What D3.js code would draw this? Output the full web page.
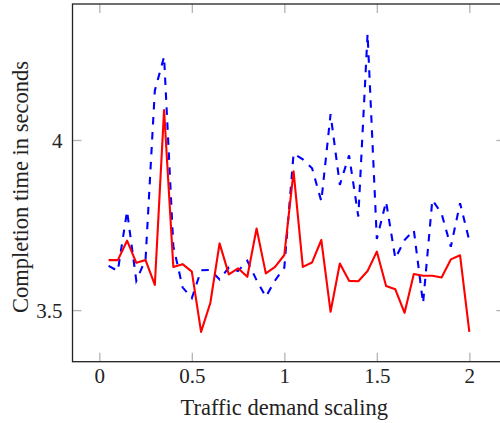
<!DOCTYPE html>
<html>
<head>
<meta charset="utf-8">
<script src="https://cdn.jsdelivr.net/npm/d3@7"></script>
<style>
body{margin:0;background:#fff;}
text{font-family:"Liberation Serif",serif;}
</style>
</head>
<body>
<svg></svg>
<script>
// traffic demand scaling steps
var scaling=[0.05,0.1,0.15,0.2,0.25,0.3,0.35,0.4,0.45,0.5,0.55,0.6,0.65,0.7,0.75,0.8,0.85,0.9,0.95,1,
  1.05,1.1,1.15,1.2,1.25,1.3,1.35,1.4,1.45,1.5,1.55,1.6,1.65,1.7,1.75,1.8,1.85,1.9,1.95,2];

// red solid
var solidTimes=[3.647,3.647,3.704,3.639,3.647,3.574,4.088,3.627,3.635,3.613,3.436,3.521,3.696,3.605,3.623,3.598,3.740,3.608,3.627,3.662,
  3.908,3.627,3.640,3.706,3.495,3.637,3.586,3.585,3.615,3.672,3.571,3.561,3.492,3.606,3.601,3.601,3.596,3.649,3.661,3.436];

// blue dashed
var dashedTimes=[3.630,3.615,3.791,3.586,3.650,4.145,4.245,3.688,3.567,3.535,3.617,3.618,3.590,3.625,3.615,3.645,3.588,3.539,3.587,3.625,
  3.960,3.943,3.917,3.820,4.076,3.868,3.955,3.775,4.312,3.709,3.819,3.652,3.706,3.735,3.520,3.824,3.784,3.686,3.814,3.704];

var xTicks=[0,0.5,1,1.5,2];
var yTicks=[3.5,4];

var svgWidth=500,svgHeight=423;
var svg=d3.select('svg').attr('width',svgWidth).attr('height',svgHeight);

// pgfplots style enlarge limits by 10%
var xExt=d3.extent(scaling), yExt=d3.extent(solidTimes.concat(dashedTimes));
var xPad=(xExt[1]-xExt[0])*0.1, yPad=(yExt[1]-yExt[0])*0.1;

var pLeft=72.5,pRight=505.4,pTop=4,pBottom=361.7;

var xScale=d3.scaleLinear().domain([xExt[0]-xPad,xExt[1]+xPad]).range([pLeft,pRight]);
var yScale=d3.scaleLinear().domain([yExt[0]-yPad,yExt[1]+yPad]).range([pBottom,pTop]);

var tickLen=9;

// inner ticks, grey, on all sides
var gx=svg.append('g').attr('transform','translate(0,'+pBottom+')')
  .call(d3.axisBottom(xScale).tickValues(xTicks).tickSizeInner(-tickLen).tickSizeOuter(0).tickPadding(10).tickFormat(d3.format('')));
var gxt=svg.append('g').attr('transform','translate(0,'+pTop+')')
  .call(d3.axisTop(xScale).tickValues(xTicks).tickSizeInner(-tickLen).tickSizeOuter(0).tickFormat(''));
var gy=svg.append('g').attr('transform','translate('+pLeft+',0)')
  .call(d3.axisLeft(yScale).tickValues(yTicks).tickSizeInner(-tickLen).tickSizeOuter(0).tickPadding(10).tickFormat(d3.format('')));
var gyr=svg.append('g').attr('transform','translate('+pRight+',0)')
  .call(d3.axisRight(yScale).tickValues(yTicks).tickSizeInner(-tickLen).tickSizeOuter(0).tickFormat(''));

[gx,gxt,gy,gyr].forEach(function(g){
  g.select('.domain').remove();
  g.selectAll('.tick line').attr('stroke','#b4b4b4').attr('stroke-width',1.3);
  g.selectAll('.tick text').attr('font-family','Liberation Serif, serif').attr('font-size',21).attr('fill','#222');
});
gx.selectAll('.tick text').attr('y',null).attr('dy',null).attr('transform','translate(0,21)');
gy.selectAll('.tick text').attr('x',-10).attr('dy','0.35em');

var line=d3.line().x(function(d,i){return xScale(scaling[i]);}).y(function(d){return yScale(d);});

svg.append('path').datum(dashedTimes)
  .attr('d',line).attr('fill','none').attr('stroke','#0000ff')
  .attr('stroke-width',2.1).attr('stroke-dasharray','7.5,7.5');

svg.append('path').datum(solidTimes)
  .attr('d',line).attr('fill','none').attr('stroke','#ff0000')
  .attr('stroke-width',2.1).attr('stroke-linejoin','round');

// frame
svg.append('rect').attr('x',pLeft).attr('y',pTop)
  .attr('width',pRight-pLeft).attr('height',pBottom-pTop)
  .attr('fill','none').attr('stroke','#222').attr('stroke-width',1.3);

svg.append('text').attr('x',xScale(1)).attr('y',415)
  .attr('text-anchor','middle').attr('font-size',22.5).attr('fill','#222')
  .text('Traffic demand scaling');

svg.append('text').attr('transform','translate(28,'+187+') rotate(-90)')
  .attr('text-anchor','middle').attr('font-size',22.5).attr('fill','#222')
  .text('Completion time in seconds');
</script>
</body>
</html>
